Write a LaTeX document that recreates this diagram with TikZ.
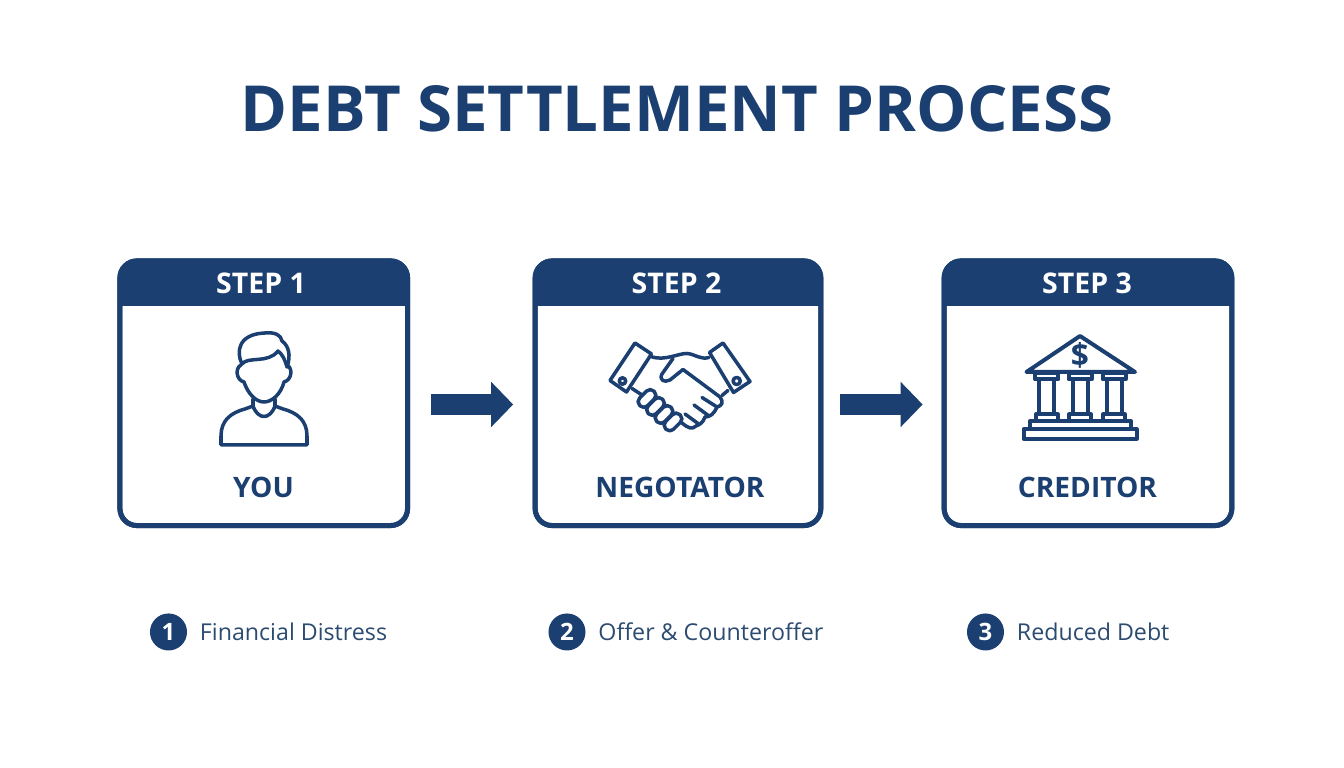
\documentclass[tikz,border=0pt]{standalone}
\usepackage{fontspec}
\setmainfont{Open Sans}
\usepackage{tikz}
\usetikzlibrary{arrows.meta,positioning}
\definecolor{navy}{HTML}{1A3F70}
\definecolor{legendtext}{HTML}{2C4B70}
\tikzset{
  stepcard/.style={draw=navy,line width=0.05cm,rounded corners=0.17cm,minimum width=2.875cm,minimum height=2.645cm,inner sep=0pt,outer sep=0pt},
  steptitle/.style={text=white,font=\bfseries\fontsize{8.1}{10}\selectfont,inner sep=0pt},
  rolelabel/.style={text=navy,font=\bfseries\fontsize{8}{10}\selectfont,inner sep=0pt},
  flowarrow/.style={navy,line width=0.21cm,-{Triangle[length=0.22cm,width=0.44cm]}},
  numdot/.style={circle,fill=navy,text=white,minimum size=0.37cm,inner sep=0pt,font=\bfseries\fontsize{6.8}{8}\selectfont},
  legendlabel/.style={text=legendtext,inner sep=0pt,font=\fontsize{6.6}{8}\selectfont},
  icon/.style={draw=navy,line width=0.035cm,line join=round,line cap=round,fill=none}
}
\begin{document}
\begin{tikzpicture}[x=0.01cm,y=-0.01cm]
\useasboundingbox (0,0) rectangle (1344,768);
\node[text=navy,inner sep=0pt,font=\bfseries\fontsize{18.07}{22}\selectfont] (headline) at (677,108.5) {DEBT SETTLEMENT PROCESS};
\coordinate (mid) at (0,404.5);
\coordinate (hdr) at (0,306);
\foreach \n/\cx/\cw/\sx/\rx/\lab in {1/263.75/2.875/261/263.5/YOU,2/678/2.855/676.5/680/NEGOTATOR,3/1088/2.875/1087/1087.5/CREDITOR} {
  \node[stepcard,minimum width=\cw cm] (box\n) at (\cx,393.25) {};
  \fill[navy] (box\n.west |- hdr) [rounded corners=0.17cm] -- (box\n.north west) -- (box\n.north east) [sharp corners] -- (box\n.east |- hdr) -- cycle;
  \node[stepcard,minimum width=\cw cm] at (\cx,393.25) {};
  \node[steptitle] (step\n) at (\sx,283.5) {STEP \n};
  \node[rolelabel] (role\n) at (\rx,487) {\lab};
}
\draw[flowarrow,shorten <=0.235cm,shorten >=0.22cm] (box1.east |- mid) -- (box2.west |- mid);
\draw[flowarrow,shorten <=0.19cm,shorten >=0.215cm] (box2.east |- mid) -- (box3.west |- mid);
% person
\draw[icon] (242,364) .. controls (236,352) and (238,334) .. (265,333) .. controls (275,332) and (281,335) .. (282,341) .. controls (289,346) and (291,356) .. (287,367);
\draw[icon] (242,364) .. controls (248,356) and (268,364) .. (278,351) .. controls (283,355) and (285,360) .. (287,367);
\draw[icon] (241,365) .. controls (235,368) and (236,380) .. (244,382) .. controls (248,394) and (256,402) .. (264,402) .. controls (272,402) and (281,394) .. (284,382) .. controls (292,380) and (293,368) .. (287,365);
\draw[icon] (253,399) -- (253,406) .. controls (258,420) and (270,420) .. (275,406) -- (275,399);
\draw[icon] (253,406) -- (245,409) .. controls (230,413) and (221,421) .. (221,436) -- (221,445) -- (307,445) -- (307,436) .. controls (307,421) and (298,413) .. (283,409) -- (275,406);
% handshake
\draw[icon] (635,343) -- (651.5,354) -- (626.5,392) -- (610,380.5) -- cycle;
\draw[icon] (723,343) -- (709.5,352.5) -- (733.5,392.5) -- (750,381.5) -- cycle;
\draw[icon] (622.5,381) circle (3.2);
\draw[icon] (736.7,381) circle (3.6);
\draw[icon] (652,357) .. controls (665,361) and (680,353) .. (687,353.5) .. controls (695,354) and (700,360) .. (709,357.5);
\draw[icon] (673,358.5) -- (662,374) .. controls (659,380) and (664,383) .. (670,380) -- (683,369.5) -- (720,397) .. controls (724,402) and (722,406) .. (717,407) .. controls (714,414) and (710,417) .. (705,417) .. controls (703,423) and (699,425) .. (696,426) .. controls (692,430) and (688,428) .. (682,423);
\draw[icon] (702,397.5) -- (717,407);
\draw[icon] (694,405) -- (709,416);
\draw[icon] (685,414) -- (698,423.5);
\draw[icon] (722,395.5) -- (728,390.5);
\draw[icon] (632,388.5) -- (642,395);
\foreach \cx/\cy in {647/398.5,655.5/406.5,664/414.5,673/422} {
  \draw[icon,rounded corners=0.05cm,shift={(\cx,\cy)},rotate=45] (-10,-5.5) rectangle (10,5.5);
}
% bank
\draw[icon,line width=0.04cm] (1080,336) -- (1135,372) -- (1026.5,372) -- cycle;
\node[text=navy,inner sep=0pt,font=\bfseries\fontsize{9}{10}\selectfont] (dollar) at (1080,355) {\$};
\foreach \px in {1046.7,1080,1114} {
  \draw[icon,line width=0.04cm] (\px-11.5,373) rectangle (\px+11.5,379.5);
  \draw[icon,line width=0.04cm] (\px-7.5,379.5) rectangle (\px+7.5,414.5);
  \draw[icon,line width=0.04cm] (\px-11,414.5) rectangle (\px+11,421);
}
\draw[icon,line width=0.04cm] (1030,421) rectangle (1131,429.5);
\draw[icon,line width=0.04cm] (1023.5,429.5) rectangle (1136.5,439);
\node[numdot] (num1) at (168.5,632) {1};
\node[numdot] (num2) at (567,632) {2};
\node[numdot] (num3) at (985.5,632) {3};
\node[legendlabel,right=0.115cm of num1] (cap1) {Financial Distress};
\node[legendlabel,right=0.115cm of num2] (cap2) {Offer \& Counteroffer};
\node[legendlabel,right=0.115cm of num3] (cap3) {Reduced Debt};
\end{tikzpicture}
\end{document}
